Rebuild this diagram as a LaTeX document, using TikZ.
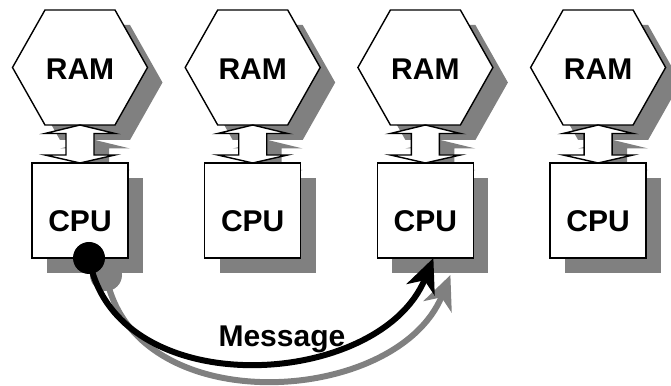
\documentclass[tikz,border=0pt]{standalone}
\usepackage{fontspec}
\setmainfont{Liberation Sans}
\usetikzlibrary{arrows.meta,calc}

\definecolor{shadowgray}{RGB}{128,128,128}
\pgfdeclarelayer{shadow}
\pgfdeclarelayer{shapes}
\pgfsetlayers{shadow,shapes,main}

\newcommand\lblfont{\fontsize{30}{36}\selectfont\bfseries}
\newcommand\hexof[1]{(#1.west) -- ([xshift=-35pt]#1.north) -- ([xshift=35pt]#1.north) -- (#1.east) -- ([xshift=35pt]#1.south) -- ([xshift=-35pt]#1.south) -- cycle}
\newcommand\busof[2]{(#1.south) -- ++(-35,-8.5) -- ++(21,0) -- ([xshift=-14pt,yshift=8pt]#2.north) -- ++(-21,0) -- (#2.north) -- ++(35,8) -- ++(-21,0) -- ([xshift=14pt,yshift=-8.5pt]#1.south) -- ++(21,0) -- cycle}

\tikzset{
  ram/.style={minimum width=135pt, minimum height=115pt, inner sep=0pt, outer sep=0pt,
    label={[font=\lblfont, yshift=-1.5pt]center:RAM}},
  cpu/.style={draw, fill=white, line width=1.4pt, minimum width=96pt, minimum height=95pt, inner sep=0pt, outer sep=0pt,
    label={[font=\lblfont, yshift=-11pt]center:CPU}},
  hexline/.style={draw, fill=white, line width=1.4pt},
  dropshade/.style={fill=shadowgray, transform canvas={shift={(15pt,-15pt)}}},
  msgline/.style={line width=6pt, -{Stealth[length=34pt,width=30pt,inset=10pt]}},
}

\begin{document}
\begin{tikzpicture}[x=1pt,y=1pt]
  \useasboundingbox (0,0) rectangle (671,385);

  \foreach \i [evaluate=\i as \cx using 80+172.7*(\i-1)] in {1,...,4} {
    \node[ram] (ram\i) at (\cx,317.5) {};
    \node[cpu] (cpu\i) at (\cx,174.5) {};
    \begin{pgfonlayer}{shapes}
      \draw[hexline] \hexof{ram\i};
      \draw[hexline] \busof{ram\i}{cpu\i};
    \end{pgfonlayer}
    \begin{pgfonlayer}{shadow}
      \fill[dropshade] \hexof{ram\i};
      \fill[dropshade] \busof{ram\i}{cpu\i};
      \fill[dropshade] (cpu\i.south west) rectangle (cpu\i.north east);
    \end{pgfonlayer}
  }

  % message from cpu1 to cpu3
  \node[circle, fill=black, minimum size=32pt, inner sep=0pt] (src) at ([xshift=9pt]cpu1.south) {};
  \coordinate (dst) at ([xshift=8pt]cpu3.south);
  \begin{pgfonlayer}{shadow}
    \begin{scope}[transform canvas={shift={(17pt,-17pt)}}]
      \fill[shadowgray] (src.center) circle (16pt);
      \draw[msgline, shadowgray] (src.center) .. controls (115,-20) and (380,-5) .. (dst);
    \end{scope}
  \end{pgfonlayer}
  \draw[msgline] (src.center) .. controls (115,-20) and (380,-5) ..
    node[pos=0.5, anchor=base, xshift=31pt, yshift=16pt, font=\lblfont] (msg) {Message} (dst);
\end{tikzpicture}
\end{document}
